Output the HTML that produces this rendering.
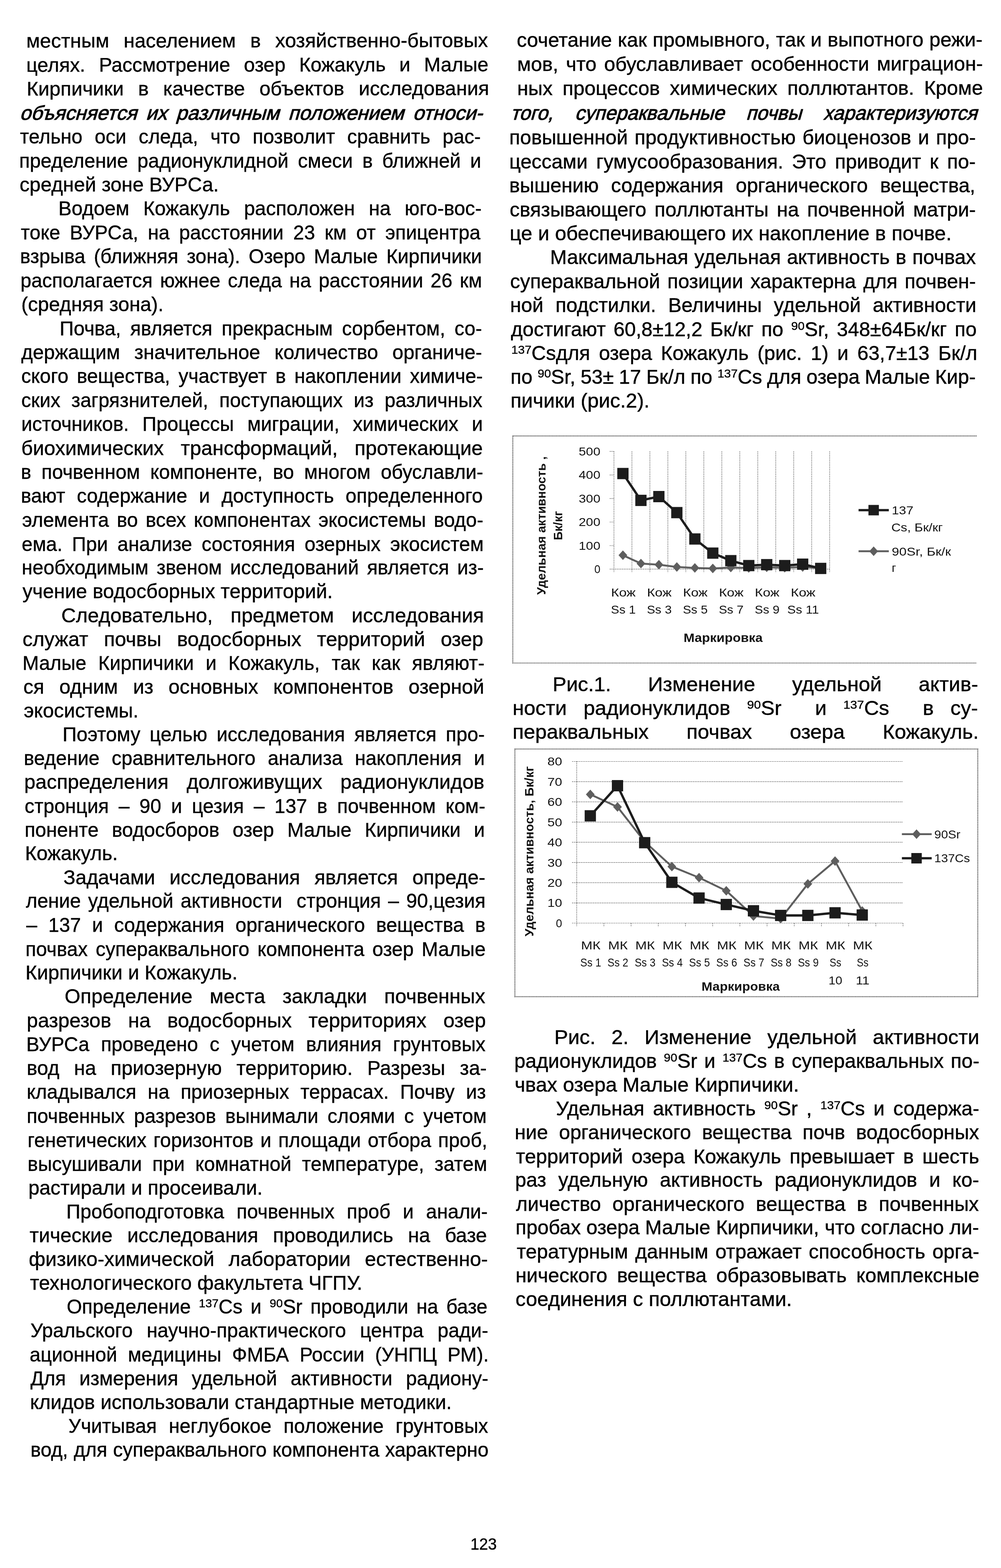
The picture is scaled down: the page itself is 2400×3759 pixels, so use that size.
<!DOCTYPE html>
<html lang="ru"><head><meta charset="utf-8"><title>123</title>
<style>
html,body{margin:0;padding:0;background:#fff;}
body{width:2400px;height:3759px;position:relative;overflow:hidden;font-family:"Liberation Sans",sans-serif;color:#000;}
.l{position:absolute;white-space:pre;font-size:47.3px;line-height:58px;height:58px;transform-origin:0 44.75px;transform:scaleX(1.0095);margin:0;-webkit-text-stroke:0.5px #000;}
.r{transform:scaleX(1.0296);-webkit-text-stroke:0.55px #000;}
.l.i{transform:scale(1.0115,1.0) skewX(-16deg);-webkit-text-stroke:1.0px #000;text-shadow:0 0 1.6px rgba(0,0,0,.65);}
.l.i.r{transform:scale(0.9884,1.0) skewX(-16deg);}
.l sup{font-size:28.5px;line-height:0;vertical-align:15px;-webkit-text-stroke:0.5px #000;}
.pn{position:absolute;font-size:39.5px;line-height:46px;white-space:pre;transform-origin:0 0;transform:scaleX(0.955);-webkit-text-stroke:0.6px #000;}

svg.ch{position:absolute;left:0;top:0;}
svg.ch text{font-family:"Liberation Sans",sans-serif;fill:#111;}
svg.ch .b{font-weight:bold;}
</style></head>
<body>
<div class="l" style="left:63.4px;top:69.2px;transform:rotate(-0.06deg) scaleX(1.0110);word-spacing:21.05px;">местным населением в хозяйственно-бытовых</div>
<div class="l" style="left:63.4px;top:127.1px;transform:rotate(-0.06deg) scaleX(1.0013);word-spacing:19.55px;">целях. Рассмотрение озер Кожакуль и Малые</div>
<div class="l" style="left:64.4px;top:184.4px;transform:rotate(-0.06deg) scaleX(1.0100);word-spacing:21.07px;">Кирпичики в качестве объектов исследования</div>
<div class="l i" style="left:47.0px;top:242.4px;word-spacing:8.25px;">объясняется их различным положением относи-</div>
<div class="l" style="left:48.0px;top:299.1px;transform:rotate(0.025deg) scaleX(0.9944);word-spacing:16.43px;">тельно оси следа, что позволит сравнить рас-</div>
<div class="l" style="left:45.6px;top:357.1px;transform:rotate(0.025deg) scaleX(0.9944);word-spacing:9.57px;">пределение радионуклидной смеси в ближней и</div>
<div class="l" style="left:46.6px;top:414.2px;transform:rotate(0.025deg) scaleX(1.0095);">средней зоне ВУРСа.</div>
<div class="l" style="left:139.5px;top:471.2px;transform:rotate(0.025deg) scaleX(1.0034);word-spacing:20.11px;">Водоем Кожакуль расположен на юго-вос-</div>
<div class="l" style="left:49.8px;top:529.0px;transform:rotate(0.025deg) scaleX(0.9944);word-spacing:9.92px;">токе ВУРСа, на расстоянии 23 км от эпицентра</div>
<div class="l" style="left:48.0px;top:586.0px;transform:rotate(0.025deg) scaleX(0.9944);word-spacing:7.29px;">взрыва (ближняя зона). Озеро Малые Кирпичики</div>
<div class="l" style="left:48.7px;top:643.5px;transform:rotate(0.025deg) scaleX(0.9944);word-spacing:4.89px;">располагается южнее следа на расстоянии 26 км</div>
<div class="l" style="left:50.7px;top:701.0px;transform:rotate(0.025deg) scaleX(1.0095);">(средняя зона).</div>
<div class="l" style="left:143.0px;top:758.6px;transform:rotate(0.025deg) scaleX(0.9944);word-spacing:9.23px;">Почва, является прекрасным сорбентом, со-</div>
<div class="l" style="left:51.0px;top:816.1px;transform:rotate(0.025deg) scaleX(1.0037);word-spacing:20.81px;">держащим значительное количество органиче-</div>
<div class="l" style="left:50.5px;top:873.1px;transform:rotate(0.025deg) scaleX(0.9944);word-spacing:7.13px;">ского вещества, участвует в накоплении химиче-</div>
<div class="l" style="left:50.5px;top:930.5px;transform:rotate(0.025deg) scaleX(0.9944);word-spacing:13.24px;">ских загрязнителей, поступающих из различных</div>
<div class="l" style="left:50.7px;top:988.0px;transform:rotate(0.025deg) scaleX(0.9948);word-spacing:19.21px;">источников. Процессы миграции, химических и</div>
<div class="l" style="left:51.0px;top:1045.5px;transform:rotate(0.025deg) scaleX(1.0246);word-spacing:26.35px;">биохимических трансформаций, протекающие</div>
<div class="l" style="left:50.0px;top:1102.8px;transform:rotate(0.025deg) scaleX(0.9944);word-spacing:11.51px;">в почвенном компоненте, во многом обуславли-</div>
<div class="l" style="left:50.0px;top:1160.3px;transform:rotate(0.025deg) scaleX(0.9944);word-spacing:14.79px;">вают содержание и доступность определенного</div>
<div class="l" style="left:52.7px;top:1218.0px;transform:rotate(0.025deg) scaleX(0.9944);word-spacing:5.71px;">элемента во всех компонентах экосистемы водо-</div>
<div class="l" style="left:51.7px;top:1275.5px;transform:rotate(0.025deg) scaleX(0.9944);word-spacing:9.77px;">ема. При анализе состояния озерных экосистем</div>
<div class="l" style="left:51.9px;top:1332.2px;transform:rotate(0.025deg) scaleX(0.9944);word-spacing:6.54px;">необходимым звеном исследований является из-</div>
<div class="l" style="left:53.7px;top:1389.2px;transform:rotate(0.025deg) scaleX(1.0095);">учение водосборных территорий.</div>
<div class="l" style="left:147.3px;top:1446.8px;transform:rotate(0.025deg) scaleX(1.0246);word-spacing:28.33px;">Следовательно, предметом исследования</div>
<div class="l" style="left:54.4px;top:1503.5px;transform:rotate(0.025deg) scaleX(1.0246);word-spacing:23.38px;">служат почвы водосборных территорий озер</div>
<div class="l" style="left:53.6px;top:1560.8px;transform:rotate(0.025deg) scaleX(0.9944);word-spacing:15.31px;">Малые Кирпичики и Кожакуль, так как являют-</div>
<div class="l" style="left:55.6px;top:1617.5px;transform:rotate(0.025deg) scaleX(1.0175);word-spacing:22.46px;">ся одним из основных компонентов озерной</div>
<div class="l" style="left:56.6px;top:1674.7px;transform:rotate(0.025deg) scaleX(1.0095);">экосистемы.</div>
<div class="l" style="left:149.5px;top:1732.0px;transform:rotate(0.025deg) scaleX(0.9944);word-spacing:9.35px;">Поэтому целью исследования является про-</div>
<div class="l" style="left:56.5px;top:1789.0px;transform:rotate(0.025deg) scaleX(0.9944);word-spacing:16.16px;">ведение сравнительного анализа накопления и</div>
<div class="l" style="left:57.6px;top:1846.3px;transform:rotate(0.025deg) scaleX(1.0246);word-spacing:29.28px;">распределения долгоживущих радионуклидов</div>
<div class="l" style="left:58.7px;top:1903.5px;transform:rotate(0.025deg) scaleX(0.9944);word-spacing:10.54px;">стронция – 90 и цезия – 137 в почвенном ком-</div>
<div class="l" style="left:59.3px;top:1960.8px;transform:rotate(0.025deg) scaleX(0.9971);word-spacing:18.79px;">поненте водосборов озер Малые Кирпичики и</div>
<div class="l" style="left:59.5px;top:2017.3px;transform:rotate(0.025deg) scaleX(1.0095);">Кожакуль.</div>
<div class="l" style="left:152.4px;top:2074.8px;transform:rotate(0.025deg) scaleX(1.0108);word-spacing:21.09px;">Задачами исследования является опреде-</div>
<div class="l" style="left:61.5px;top:2131.3px;transform:rotate(0.025deg) scaleX(0.9944);word-spacing:4.27px;">ление удельной активности  стронция – 90,цезия</div>
<div class="l" style="left:62.7px;top:2189.2px;transform:rotate(0.025deg) scaleX(0.9944);word-spacing:13.61px;">– 137 и содержания органического вещества в</div>
<div class="l" style="left:61.2px;top:2246.6px;transform:rotate(0.025deg) scaleX(0.9944);word-spacing:6.18px;">почвах супераквального компонента озер Малые</div>
<div class="l" style="left:61.4px;top:2303.2px;transform:rotate(0.025deg) scaleX(1.0095);">Кирпичики и Кожакуль.</div>
<div class="l" style="left:155.1px;top:2360.2px;transform:rotate(0.025deg) scaleX(1.0246);word-spacing:27.24px;">Определение места закладки почвенных</div>
<div class="l" style="left:63.5px;top:2417.6px;transform:rotate(0.025deg) scaleX(1.0246);word-spacing:26.31px;">разрезов на водосборных территориях озер</div>
<div class="l" style="left:63.4px;top:2474.8px;transform:rotate(0.025deg) scaleX(0.9944);word-spacing:14.74px;">ВУРСа проведено с учетом влияния грунтовых</div>
<div class="l" style="left:63.6px;top:2531.8px;transform:rotate(0.025deg) scaleX(1.0122);word-spacing:21.48px;">вод на приозерную территорию. Разрезы за-</div>
<div class="l" style="left:64.4px;top:2589.2px;transform:rotate(0.025deg) scaleX(0.9944);word-spacing:14.02px;">кладывался на приозерных террасах. Почву из</div>
<div class="l" style="left:64.4px;top:2646.7px;transform:rotate(0.025deg) scaleX(0.9944);word-spacing:9.07px;">почвенных разрезов вынимали слоями с учетом</div>
<div class="l" style="left:66.3px;top:2704.7px;transform:rotate(0.025deg) scaleX(0.9944);word-spacing:3.50px;">генетических горизонтов и площади отбора проб,</div>
<div class="l" style="left:66.3px;top:2762.1px;transform:rotate(0.025deg) scaleX(0.9944);word-spacing:12.08px;">высушивали при комнатной температуре, затем</div>
<div class="l" style="left:67.5px;top:2819.1px;transform:rotate(0.025deg) scaleX(1.0095);">растирали и просеивали.</div>
<div class="l" style="left:158.8px;top:2875.7px;transform:rotate(0.025deg) scaleX(0.9944);word-spacing:16.58px;">Пробоподготовка почвенных проб и анали-</div>
<div class="l" style="left:71.3px;top:2933.1px;transform:rotate(0.025deg) scaleX(1.0144);word-spacing:21.63px;">тические исследования проводились на базе</div>
<div class="l" style="left:69.3px;top:2990.3px;transform:rotate(0.025deg) scaleX(1.0246);word-spacing:20.21px;">физико-химической лаборатории естественно-</div>
<div class="l" style="left:72.0px;top:3047.3px;transform:rotate(0.025deg) scaleX(1.0095);">технологического факультета ЧГПУ.</div>
<div class="l" style="left:160.2px;top:3103.9px;transform:rotate(0.025deg) scaleX(0.9944);word-spacing:6.30px;">Определение <sup>137</sup>Cs и <sup>90</sup>Sr проводили на базе</div>
<div class="l" style="left:73.4px;top:3161.3px;transform:rotate(0.025deg) scaleX(0.9947);word-spacing:20.51px;">Уральского научно-практического центра ради-</div>
<div class="l" style="left:71.2px;top:3218.8px;transform:rotate(0.025deg) scaleX(0.9944);word-spacing:12.74px;">ационной медицины ФМБА России (УНПЦ РМ).</div>
<div class="l" style="left:73.2px;top:3275.8px;transform:rotate(0.025deg) scaleX(0.9965);word-spacing:19.39px;">Для измерения удельной активности радиону-</div>
<div class="l" style="left:72.2px;top:3333.2px;transform:rotate(0.025deg) scaleX(1.0095);">клидов использовали стандартные методики.</div>
<div class="l" style="left:164.0px;top:3389.8px;transform:rotate(0.025deg) scaleX(0.9944);word-spacing:15.67px;">Учитывая неглубокое положение грунтовых</div>
<div class="l" style="left:73.0px;top:3447.2px;transform:rotate(0.025deg) scaleX(0.9944);word-spacing:0.68px;">вод, для супераквального компонента характерно</div>
<div class="l r" style="left:1238.7px;top:66.8px;transform:rotate(-0.06deg) scaleX(1.0142);word-spacing:0.56px;">сочетание как промывного, так и выпотного режи-</div>
<div class="l r" style="left:1239.6px;top:124.8px;transform:rotate(-0.06deg) scaleX(1.0142);word-spacing:5.09px;">мов, что обуславливает особенности миграцион-</div>
<div class="l r" style="left:1239.6px;top:183.1px;transform:rotate(-0.06deg) scaleX(1.0142);word-spacing:10.30px;">ных процессов химических поллютантов. Кроме</div>
<div class="l i r" style="left:1224.0px;top:242.2px;word-spacing:39.72px;">того, супераквальные почвы характеризуются</div>
<div class="l r" style="left:1221.3px;top:301.4px;transform:scaleX(1.0142);word-spacing:2.94px;">повышенной продуктивностью биоценозов и про-</div>
<div class="l r" style="left:1221.3px;top:359.4px;transform:scaleX(1.0142);word-spacing:7.15px;">цессами гумусообразования. Это приводит к по-</div>
<div class="l r" style="left:1221.3px;top:416.4px;transform:scaleX(1.0142);word-spacing:16.00px;">вышению содержания органического вещества,</div>
<div class="l r" style="left:1222.3px;top:473.5px;transform:scaleX(1.0142);word-spacing:6.19px;">связывающего поллютанты на почвенной матри-</div>
<div class="l r" style="left:1221.9px;top:531.0px;">це и обеспечивающего их накопление в почве.</div>
<div class="l r" style="left:1319.4px;top:588.0px;transform:scaleX(1.0142);word-spacing:1.05px;">Максимальная удельная активность в почвах</div>
<div class="l r" style="left:1223.0px;top:645.5px;transform:scaleX(1.0142);word-spacing:4.02px;">супераквальной позиции характерна для почвен-</div>
<div class="l r" style="left:1223.2px;top:702.9px;transform:scaleX(1.0142);word-spacing:15.24px;">ной подстилки. Величины удельной активности</div>
<div class="l r" style="left:1225.0px;top:760.5px;transform:scaleX(1.0142);word-spacing:5.22px;">достигают 60,8±12,2 Бк/кг по <sup>90</sup>Sr, 348±64Бк/кг по</div>
<div class="l r" style="left:1225.8px;top:818.0px;transform:scaleX(1.0142);word-spacing:7.65px;"><sup>137</sup>Csдля озера Кожакуль (рис. 1) и 63,7±13 Бк/л</div>
<div class="l r" style="left:1224.0px;top:874.9px;transform:scaleX(1.0142);word-spacing:-1.09px;">по <sup>90</sup>Sr, 53± 17 Бк/л по <sup>137</sup>Cs для озера Малые Кир-</div>
<div class="l r" style="left:1223.9px;top:932.1px;">пичики (рис.2).</div>
<div class="l r" style="left:1324.8px;top:1612.3px;transform:scaleX(1.0450);word-spacing:71.62px;">Рис.1. Изменение удельной актив-</div>
<div class="l r" style="left:1229.1px;top:1669.2px;transform:scaleX(1.0450);word-spacing:25.31px;">ности радионуклидов <sup>90</sup>Sr  и <sup>137</sup>Cs  в су-</div>
<div class="l r" style="left:1229.1px;top:1725.8px;transform:scaleX(1.0450);word-spacing:73.85px;">пераквальных почвах озера Кожакуль.</div>
<div class="l r" style="left:1328.5px;top:2457.6px;transform:scaleX(1.0443);word-spacing:23.25px;">Рис. 2. Изменение удельной активности</div>
<div class="l r" style="left:1232.9px;top:2514.6px;transform:scaleX(1.0142);word-spacing:3.45px;">радионуклидов <sup>90</sup>Sr и <sup>137</sup>Cs в супераквальных по-</div>
<div class="l r" style="left:1233.8px;top:2571.9px;">чвах озера Малые Кирпичики.</div>
<div class="l r" style="left:1332.5px;top:2628.6px;transform:scaleX(1.0142);word-spacing:7.08px;">Удельная активность <sup>90</sup>Sr , <sup>137</sup>Cs и содержа-</div>
<div class="l r" style="left:1234.1px;top:2686.2px;transform:scaleX(1.0142);word-spacing:12.73px;">ние органического вещества почв водосборных</div>
<div class="l r" style="left:1237.1px;top:2743.7px;transform:scaleX(1.0142);word-spacing:7.18px;">территорий озера Кожакуль превышает в шесть</div>
<div class="l r" style="left:1234.9px;top:2800.2px;transform:scaleX(1.0142);word-spacing:15.15px;">раз удельную активность радионуклидов и ко-</div>
<div class="l r" style="left:1237.1px;top:2857.7px;transform:scaleX(1.0142);word-spacing:13.73px;">личество органического вещества в почвенных</div>
<div class="l r" style="left:1236.0px;top:2914.2px;transform:scaleX(1.0142);word-spacing:0.11px;">пробах озера Малые Кирпичики, что согласно ли-</div>
<div class="l r" style="left:1239.0px;top:2972.1px;transform:scaleX(1.0142);word-spacing:3.66px;">тературным данным отражает способность орга-</div>
<div class="l r" style="left:1236.0px;top:3028.7px;transform:scaleX(1.0142);word-spacing:9.68px;">нического вещества образовывать комплексные</div>
<div class="l r" style="left:1236.2px;top:3086.1px;">соединения с поллютантами.</div>
<div class="pn" style="left:1128px;top:3678.4px;">123</div>
<svg class="ch" width="2400" height="3759" viewBox="0 0 2400 3759">
<path d="M2341.5 1045.2H1229.5V1589.5H2341.5" stroke="#3a3a3a" stroke-width="2.2" stroke-dasharray="2 1.4" fill="none"/>
<path d="M1472.0 1082.2V1372.4" stroke="#333" stroke-width="1.2" stroke-dasharray="2.2 2" fill="none"/>
<path d="M1515.1 1082.2V1372.4" stroke="#333" stroke-width="1.2" stroke-dasharray="2.2 2" fill="none"/>
<path d="M1558.2 1082.2V1372.4" stroke="#333" stroke-width="1.2" stroke-dasharray="2.2 2" fill="none"/>
<path d="M1601.3 1082.2V1372.4" stroke="#333" stroke-width="1.2" stroke-dasharray="2.2 2" fill="none"/>
<path d="M1644.4 1082.2V1372.4" stroke="#333" stroke-width="1.2" stroke-dasharray="2.2 2" fill="none"/>
<path d="M1687.5 1082.2V1372.4" stroke="#333" stroke-width="1.2" stroke-dasharray="2.2 2" fill="none"/>
<path d="M1730.6 1082.2V1372.4" stroke="#333" stroke-width="1.2" stroke-dasharray="2.2 2" fill="none"/>
<path d="M1773.7 1082.2V1372.4" stroke="#333" stroke-width="1.2" stroke-dasharray="2.2 2" fill="none"/>
<path d="M1816.8 1082.2V1372.4" stroke="#333" stroke-width="1.2" stroke-dasharray="2.2 2" fill="none"/>
<path d="M1859.9 1082.2V1372.4" stroke="#333" stroke-width="1.2" stroke-dasharray="2.2 2" fill="none"/>
<path d="M1903.0 1082.2V1372.4" stroke="#333" stroke-width="1.2" stroke-dasharray="2.2 2" fill="none"/>
<path d="M1946.1 1082.2V1372.4" stroke="#333" stroke-width="1.2" stroke-dasharray="2.2 2" fill="none"/>
<path d="M1989.2 1082.2V1372.4" stroke="#333" stroke-width="1.2" stroke-dasharray="2.2 2" fill="none"/>
<path d="M1462.0 1364.4H1989.2" stroke="#333" stroke-width="1.2" stroke-dasharray="2.2 2" fill="none"/>
<path d="M1462.0 1308.0H1472.0" stroke="#333" stroke-width="1.2" stroke-dasharray="2.2 2" fill="none"/>
<path d="M1462.0 1251.5H1472.0" stroke="#333" stroke-width="1.2" stroke-dasharray="2.2 2" fill="none"/>
<path d="M1462.0 1195.1H1472.0" stroke="#333" stroke-width="1.2" stroke-dasharray="2.2 2" fill="none"/>
<path d="M1462.0 1138.6H1472.0" stroke="#333" stroke-width="1.2" stroke-dasharray="2.2 2" fill="none"/>
<path d="M1462.0 1082.2H1472.0" stroke="#333" stroke-width="1.2" stroke-dasharray="2.2 2" fill="none"/>
<text x="1425.0" y="1374.2" font-size="27.5" textLength="14.5" lengthAdjust="spacingAndGlyphs">0</text>
<text x="1387.5" y="1317.8" font-size="27.5" textLength="52.0" lengthAdjust="spacingAndGlyphs">100</text>
<text x="1387.5" y="1261.3" font-size="27.5" textLength="52.0" lengthAdjust="spacingAndGlyphs">200</text>
<text x="1387.5" y="1204.9" font-size="27.5" textLength="52.0" lengthAdjust="spacingAndGlyphs">300</text>
<text x="1387.5" y="1148.4" font-size="27.5" textLength="52.0" lengthAdjust="spacingAndGlyphs">400</text>
<text x="1387.5" y="1092.0" font-size="27.5" textLength="52.0" lengthAdjust="spacingAndGlyphs">500</text>
<polyline points="1493.5,1331.1 1536.7,1350.9 1579.8,1353.7 1622.8,1359.3 1666.0,1361.6 1709.0,1362.7 1752.2,1360.4 1795.2,1361.6 1838.3,1359.9 1881.5,1361.0 1924.5,1359.3 1967.7,1362.1" fill="none" stroke="#5e5e5e" stroke-width="4.5" stroke-linejoin="round"/>
<path d="M1493.5 1319.6L1504.0 1331.1L1493.5 1342.6L1483.0 1331.1Z" fill="#5e5e5e"/>
<path d="M1536.7 1339.4L1547.2 1350.9L1536.7 1362.4L1526.2 1350.9Z" fill="#5e5e5e"/>
<path d="M1579.8 1342.2L1590.2 1353.7L1579.8 1365.2L1569.2 1353.7Z" fill="#5e5e5e"/>
<path d="M1622.8 1347.8L1633.3 1359.3L1622.8 1370.8L1612.3 1359.3Z" fill="#5e5e5e"/>
<path d="M1666.0 1350.1L1676.5 1361.6L1666.0 1373.1L1655.5 1361.6Z" fill="#5e5e5e"/>
<path d="M1709.0 1351.2L1719.5 1362.7L1709.0 1374.2L1698.5 1362.7Z" fill="#5e5e5e"/>
<path d="M1752.2 1348.9L1762.7 1360.4L1752.2 1371.9L1741.7 1360.4Z" fill="#5e5e5e"/>
<path d="M1795.2 1350.1L1805.8 1361.6L1795.2 1373.1L1784.8 1361.6Z" fill="#5e5e5e"/>
<path d="M1838.3 1348.4L1848.8 1359.9L1838.3 1371.4L1827.8 1359.9Z" fill="#5e5e5e"/>
<path d="M1881.5 1349.5L1892.0 1361.0L1881.5 1372.5L1871.0 1361.0Z" fill="#5e5e5e"/>
<path d="M1924.5 1347.8L1935.0 1359.3L1924.5 1370.8L1914.0 1359.3Z" fill="#5e5e5e"/>
<path d="M1967.7 1350.6L1978.2 1362.1L1967.7 1373.6L1957.2 1362.1Z" fill="#5e5e5e"/>
<polyline points="1493.5,1135.2 1536.7,1199.6 1579.8,1190.5 1622.8,1228.9 1666.0,1292.1 1709.0,1326.0 1752.2,1344.1 1795.2,1355.9 1838.3,1353.7 1881.5,1355.9 1924.5,1352.5 1967.7,1362.7" fill="none" stroke="#1c1c1c" stroke-width="5.6" stroke-linejoin="round"/>
<rect x="1480.0" y="1121.7" width="27" height="27" fill="#1c1c1c"/>
<rect x="1523.2" y="1186.1" width="27" height="27" fill="#1c1c1c"/>
<rect x="1566.2" y="1177.0" width="27" height="27" fill="#1c1c1c"/>
<rect x="1609.3" y="1215.4" width="27" height="27" fill="#1c1c1c"/>
<rect x="1652.5" y="1278.6" width="27" height="27" fill="#1c1c1c"/>
<rect x="1695.5" y="1312.5" width="27" height="27" fill="#1c1c1c"/>
<rect x="1738.7" y="1330.6" width="27" height="27" fill="#1c1c1c"/>
<rect x="1781.8" y="1342.4" width="27" height="27" fill="#1c1c1c"/>
<rect x="1824.8" y="1340.2" width="27" height="27" fill="#1c1c1c"/>
<rect x="1868.0" y="1342.4" width="27" height="27" fill="#1c1c1c"/>
<rect x="1911.0" y="1339.0" width="27" height="27" fill="#1c1c1c"/>
<rect x="1954.2" y="1349.2" width="27" height="27" fill="#1c1c1c"/>
<text x="1465.0" y="1429.5" font-size="27.5" textLength="59.0" lengthAdjust="spacingAndGlyphs">Кож</text>
<text x="1464.8" y="1470.8" font-size="27.5" textLength="59.5" lengthAdjust="spacingAndGlyphs" style="white-space:pre">Ss 1</text>
<text x="1551.2" y="1429.5" font-size="27.5" textLength="59.0" lengthAdjust="spacingAndGlyphs">Кож</text>
<text x="1551.0" y="1470.8" font-size="27.5" textLength="59.5" lengthAdjust="spacingAndGlyphs" style="white-space:pre">Ss 3</text>
<text x="1637.5" y="1429.5" font-size="27.5" textLength="59.0" lengthAdjust="spacingAndGlyphs">Кож</text>
<text x="1637.2" y="1470.8" font-size="27.5" textLength="59.5" lengthAdjust="spacingAndGlyphs" style="white-space:pre">Ss 5</text>
<text x="1723.7" y="1429.5" font-size="27.5" textLength="59.0" lengthAdjust="spacingAndGlyphs">Кож</text>
<text x="1723.4" y="1470.8" font-size="27.5" textLength="59.5" lengthAdjust="spacingAndGlyphs" style="white-space:pre">Ss 7</text>
<text x="1809.8" y="1429.5" font-size="27.5" textLength="59.0" lengthAdjust="spacingAndGlyphs">Кож</text>
<text x="1809.6" y="1470.8" font-size="27.5" textLength="59.5" lengthAdjust="spacingAndGlyphs" style="white-space:pre">Ss 9</text>
<text x="1896.0" y="1429.5" font-size="27.5" textLength="59.0" lengthAdjust="spacingAndGlyphs">Кож</text>
<text x="1887.5" y="1470.8" font-size="27.5" textLength="76.0" lengthAdjust="spacingAndGlyphs" style="white-space:pre">Ss 11</text>
<text x="1639.0" y="1539.2" font-size="29" textLength="189.5" lengthAdjust="spacingAndGlyphs" class="b">Маркировка</text>
<g transform="translate(1307.5 1260) rotate(-90)"><text x="-166.0" y="0.0" font-size="29" textLength="332.0" lengthAdjust="spacingAndGlyphs" class="b">Удельная активность ,</text></g>
<g transform="translate(1347.5 1260) rotate(-90)"><text x="-35.0" y="0.0" font-size="29" textLength="70.0" lengthAdjust="spacingAndGlyphs" class="b">Бк/кг</text></g>
<path d="M2058.5 1223H2131" stroke="#1c1c1c" stroke-width="5.6" fill="none"/>
<rect x="2082.2" y="1210.5" width="25" height="25" fill="#1c1c1c"/>
<text x="2138.0" y="1233.0" font-size="27.5" textLength="52.0" lengthAdjust="spacingAndGlyphs">137</text>
<text x="2137.0" y="1273.7" font-size="27.5" textLength="123.5" lengthAdjust="spacingAndGlyphs">Cs, Бк/кг</text>
<path d="M2058.5 1321.4H2131" stroke="#5e5e5e" stroke-width="4.5" fill="none"/>
<path d="M2094.7 1309.9L2105.2 1321.4L2094.7 1332.9L2084.2 1321.4Z" fill="#5e5e5e"/>
<text x="2138.0" y="1332.3" font-size="27.5" textLength="142.0" lengthAdjust="spacingAndGlyphs">90Sr, Бк/к</text>
<text x="2138.0" y="1371.3" font-size="27.5" textLength="10.5" lengthAdjust="spacingAndGlyphs">г</text>
<path d="M1234.5 1795.6H2344.3V2389.3H1234.5Z" stroke="#3a3a3a" stroke-width="2.2" stroke-dasharray="2 1.4" fill="none"/>
<path d="M1371.7 2213.0H2165.1" stroke="#333" stroke-width="1.2" stroke-dasharray="2.2 2" fill="none"/>
<text x="1332.8" y="2222.8" font-size="27.5" textLength="15.0" lengthAdjust="spacingAndGlyphs">0</text>
<path d="M1371.7 2164.6H2165.1" stroke="#333" stroke-width="1.2" stroke-dasharray="2.2 2" fill="none"/>
<text x="1312.6" y="2174.4" font-size="27.5" textLength="35.2" lengthAdjust="spacingAndGlyphs">10</text>
<path d="M1371.7 2116.1H2165.1" stroke="#333" stroke-width="1.2" stroke-dasharray="2.2 2" fill="none"/>
<text x="1312.6" y="2125.9" font-size="27.5" textLength="35.2" lengthAdjust="spacingAndGlyphs">20</text>
<path d="M1371.7 2067.7H2165.1" stroke="#333" stroke-width="1.2" stroke-dasharray="2.2 2" fill="none"/>
<text x="1312.6" y="2077.5" font-size="27.5" textLength="35.2" lengthAdjust="spacingAndGlyphs">30</text>
<path d="M1371.7 2019.2H2165.1" stroke="#333" stroke-width="1.2" stroke-dasharray="2.2 2" fill="none"/>
<text x="1312.6" y="2029.0" font-size="27.5" textLength="35.2" lengthAdjust="spacingAndGlyphs">40</text>
<path d="M1371.7 1970.8H2165.1" stroke="#333" stroke-width="1.2" stroke-dasharray="2.2 2" fill="none"/>
<text x="1312.6" y="1980.6" font-size="27.5" textLength="35.2" lengthAdjust="spacingAndGlyphs">50</text>
<path d="M1371.7 1922.4H2165.1" stroke="#333" stroke-width="1.2" stroke-dasharray="2.2 2" fill="none"/>
<text x="1312.6" y="1932.2" font-size="27.5" textLength="35.2" lengthAdjust="spacingAndGlyphs">60</text>
<path d="M1371.7 1873.9H2165.1" stroke="#333" stroke-width="1.2" stroke-dasharray="2.2 2" fill="none"/>
<text x="1312.6" y="1883.7" font-size="27.5" textLength="35.2" lengthAdjust="spacingAndGlyphs">70</text>
<path d="M1371.7 1825.5H2165.1" stroke="#333" stroke-width="1.2" stroke-dasharray="2.2 2" fill="none"/>
<text x="1312.6" y="1835.3" font-size="27.5" textLength="35.2" lengthAdjust="spacingAndGlyphs">80</text>
<path d="M1382.7 1825.5V2221.0" stroke="#333" stroke-width="1.2" stroke-dasharray="2.2 2" fill="none"/>
<path d="M1447.9 2213.0V2222.0" stroke="#333" stroke-width="1.2" stroke-dasharray="2.2 2" fill="none"/>
<path d="M1513.1 2213.0V2222.0" stroke="#333" stroke-width="1.2" stroke-dasharray="2.2 2" fill="none"/>
<path d="M1578.3 2213.0V2222.0" stroke="#333" stroke-width="1.2" stroke-dasharray="2.2 2" fill="none"/>
<path d="M1643.5 2213.0V2222.0" stroke="#333" stroke-width="1.2" stroke-dasharray="2.2 2" fill="none"/>
<path d="M1708.7 2213.0V2222.0" stroke="#333" stroke-width="1.2" stroke-dasharray="2.2 2" fill="none"/>
<path d="M1773.9 2213.0V2222.0" stroke="#333" stroke-width="1.2" stroke-dasharray="2.2 2" fill="none"/>
<path d="M1839.1 2213.0V2222.0" stroke="#333" stroke-width="1.2" stroke-dasharray="2.2 2" fill="none"/>
<path d="M1904.3 2213.0V2222.0" stroke="#333" stroke-width="1.2" stroke-dasharray="2.2 2" fill="none"/>
<path d="M1969.5 2213.0V2222.0" stroke="#333" stroke-width="1.2" stroke-dasharray="2.2 2" fill="none"/>
<path d="M2034.7 2213.0V2222.0" stroke="#333" stroke-width="1.2" stroke-dasharray="2.2 2" fill="none"/>
<path d="M2099.9 2213.0V2222.0" stroke="#333" stroke-width="1.2" stroke-dasharray="2.2 2" fill="none"/>
<path d="M2165.1 2213.0V2222.0" stroke="#333" stroke-width="1.2" stroke-dasharray="2.2 2" fill="none"/>
<polyline points="1415.3,1904.4 1480.5,1934.5 1545.7,2017.8 1610.9,2077.4 1676.1,2104.0 1741.3,2135.5 1806.5,2196.0 1871.7,2202.3 1936.9,2119.0 2002.1,2064.3 2067.3,2183.9" fill="none" stroke="#5e5e5e" stroke-width="4.5" stroke-linejoin="round"/>
<path d="M1415.3 1892.9L1425.8 1904.4L1415.3 1915.9L1404.8 1904.4Z" fill="#5e5e5e"/>
<path d="M1480.5 1923.0L1491.0 1934.5L1480.5 1946.0L1470.0 1934.5Z" fill="#5e5e5e"/>
<path d="M1545.7 2006.3L1556.2 2017.8L1545.7 2029.3L1535.2 2017.8Z" fill="#5e5e5e"/>
<path d="M1610.9 2065.9L1621.4 2077.4L1610.9 2088.9L1600.4 2077.4Z" fill="#5e5e5e"/>
<path d="M1676.1 2092.5L1686.6 2104.0L1676.1 2115.5L1665.6 2104.0Z" fill="#5e5e5e"/>
<path d="M1741.3 2124.0L1751.8 2135.5L1741.3 2147.0L1730.8 2135.5Z" fill="#5e5e5e"/>
<path d="M1806.5 2184.5L1817.0 2196.0L1806.5 2207.5L1796.0 2196.0Z" fill="#5e5e5e"/>
<path d="M1871.7 2190.8L1882.2 2202.3L1871.7 2213.8L1861.2 2202.3Z" fill="#5e5e5e"/>
<path d="M1936.9 2107.5L1947.4 2119.0L1936.9 2130.5L1926.4 2119.0Z" fill="#5e5e5e"/>
<path d="M2002.1 2052.8L2012.6 2064.3L2002.1 2075.8L1991.6 2064.3Z" fill="#5e5e5e"/>
<path d="M2067.3 2172.4L2077.8 2183.9L2067.3 2195.4L2056.8 2183.9Z" fill="#5e5e5e"/>
<polyline points="1415.3,1955.8 1480.5,1883.6 1545.7,2020.2 1610.9,2115.2 1676.1,2152.9 1741.3,2168.4 1806.5,2183.5 1871.7,2194.6 1936.9,2194.6 2002.1,2188.3 2067.3,2193.6" fill="none" stroke="#1c1c1c" stroke-width="5.6" stroke-linejoin="round"/>
<rect x="1401.8" y="1942.3" width="27" height="27" fill="#1c1c1c"/>
<rect x="1467.0" y="1870.1" width="27" height="27" fill="#1c1c1c"/>
<rect x="1532.2" y="2006.7" width="27" height="27" fill="#1c1c1c"/>
<rect x="1597.4" y="2101.7" width="27" height="27" fill="#1c1c1c"/>
<rect x="1662.6" y="2139.4" width="27" height="27" fill="#1c1c1c"/>
<rect x="1727.8" y="2154.9" width="27" height="27" fill="#1c1c1c"/>
<rect x="1793.0" y="2170.0" width="27" height="27" fill="#1c1c1c"/>
<rect x="1858.2" y="2181.1" width="27" height="27" fill="#1c1c1c"/>
<rect x="1923.4" y="2181.1" width="27" height="27" fill="#1c1c1c"/>
<rect x="1988.6" y="2174.8" width="27" height="27" fill="#1c1c1c"/>
<rect x="2053.8" y="2180.1" width="27" height="27" fill="#1c1c1c"/>
<text x="1392.9" y="2276.4" font-size="27.5" textLength="46.8" lengthAdjust="spacingAndGlyphs">МК</text>
<text x="1391.3" y="2317.0" font-size="27.5" textLength="50.0" lengthAdjust="spacingAndGlyphs" style="white-space:pre">Ss 1</text>
<text x="1458.1" y="2276.4" font-size="27.5" textLength="46.8" lengthAdjust="spacingAndGlyphs">МК</text>
<text x="1456.5" y="2317.0" font-size="27.5" textLength="50.0" lengthAdjust="spacingAndGlyphs" style="white-space:pre">Ss 2</text>
<text x="1523.3" y="2276.4" font-size="27.5" textLength="46.8" lengthAdjust="spacingAndGlyphs">МК</text>
<text x="1521.7" y="2317.0" font-size="27.5" textLength="50.0" lengthAdjust="spacingAndGlyphs" style="white-space:pre">Ss 3</text>
<text x="1588.5" y="2276.4" font-size="27.5" textLength="46.8" lengthAdjust="spacingAndGlyphs">МК</text>
<text x="1586.9" y="2317.0" font-size="27.5" textLength="50.0" lengthAdjust="spacingAndGlyphs" style="white-space:pre">Ss 4</text>
<text x="1653.7" y="2276.4" font-size="27.5" textLength="46.8" lengthAdjust="spacingAndGlyphs">МК</text>
<text x="1652.1" y="2317.0" font-size="27.5" textLength="50.0" lengthAdjust="spacingAndGlyphs" style="white-space:pre">Ss 5</text>
<text x="1718.9" y="2276.4" font-size="27.5" textLength="46.8" lengthAdjust="spacingAndGlyphs">МК</text>
<text x="1717.3" y="2317.0" font-size="27.5" textLength="50.0" lengthAdjust="spacingAndGlyphs" style="white-space:pre">Ss 6</text>
<text x="1784.1" y="2276.4" font-size="27.5" textLength="46.8" lengthAdjust="spacingAndGlyphs">МК</text>
<text x="1782.5" y="2317.0" font-size="27.5" textLength="50.0" lengthAdjust="spacingAndGlyphs" style="white-space:pre">Ss 7</text>
<text x="1849.3" y="2276.4" font-size="27.5" textLength="46.8" lengthAdjust="spacingAndGlyphs">МК</text>
<text x="1847.7" y="2317.0" font-size="27.5" textLength="50.0" lengthAdjust="spacingAndGlyphs" style="white-space:pre">Ss 8</text>
<text x="1914.5" y="2276.4" font-size="27.5" textLength="46.8" lengthAdjust="spacingAndGlyphs">МК</text>
<text x="1912.9" y="2317.0" font-size="27.5" textLength="50.0" lengthAdjust="spacingAndGlyphs" style="white-space:pre">Ss 9</text>
<text x="1979.7" y="2276.4" font-size="27.5" textLength="46.8" lengthAdjust="spacingAndGlyphs">МК</text>
<text x="1989.1" y="2317.0" font-size="27.5" textLength="28.0" lengthAdjust="spacingAndGlyphs">Ss</text>
<text x="1986.6" y="2360.0" font-size="27.5" textLength="33.0" lengthAdjust="spacingAndGlyphs">10</text>
<text x="2044.9" y="2276.4" font-size="27.5" textLength="46.8" lengthAdjust="spacingAndGlyphs">МК</text>
<text x="2054.3" y="2317.0" font-size="27.5" textLength="28.0" lengthAdjust="spacingAndGlyphs">Ss</text>
<text x="2051.8" y="2360.0" font-size="27.5" textLength="33.0" lengthAdjust="spacingAndGlyphs">11</text>
<text x="1682.0" y="2375.0" font-size="29" textLength="187.6" lengthAdjust="spacingAndGlyphs" class="b">Маркировка</text>
<g transform="translate(1278.5 2041) rotate(-90)"><text x="-204.0" y="0.0" font-size="29" textLength="408.0" lengthAdjust="spacingAndGlyphs" class="b">Удельная активность, Бк/кг</text></g>
<path d="M2162.4 1999.8H2233.8" stroke="#5e5e5e" stroke-width="4.5" fill="none"/>
<path d="M2197.5 1988.3L2208.0 1999.8L2197.5 2011.3L2187.0 1999.8Z" fill="#5e5e5e"/>
<text x="2240.0" y="2010.0" font-size="27.5" textLength="62.5" lengthAdjust="spacingAndGlyphs">90Sr</text>
<path d="M2162.4 2057.5H2233.8" stroke="#1c1c1c" stroke-width="5.6" fill="none"/>
<rect x="2185.0" y="2045.0" width="25" height="25" fill="#1c1c1c"/>
<text x="2240.0" y="2067.4" font-size="27.5" textLength="85.5" lengthAdjust="spacingAndGlyphs">137Cs</text>
</svg>
</body></html>
